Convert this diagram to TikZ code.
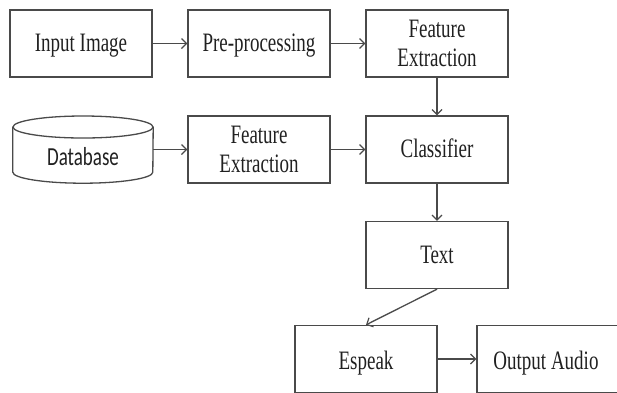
\documentclass[tikz,border=0pt]{standalone}
\usepackage{graphicx}
\usepackage{fontspec}
\setmainfont{Liberation Serif}
\newfontfamily\dbfont{Carlito}
\usetikzlibrary{arrows.meta}
\definecolor{linegray}{HTML}{4A4A4A}
\definecolor{textgray}{HTML}{202020}
\newcommand{\stretchtxt}[1]{\raisebox{-2.5pt}[\height][\depth]{\scalebox{1}[1.4]{\begin{tabular}{@{}c@{}}#1\end{tabular}}}}
\begin{document}
\begin{tikzpicture}[x=1pt,y=-1pt,
  blk/.style={draw=linegray, line width=1.3pt, minimum width=142pt, minimum height=67pt,
    inner sep=0pt, align=center, font=\fontsize{19}{20.5}\selectfont, text=textgray},
  conn/.style={draw=linegray, line width=1.3pt, -{Straight Barb[length=5pt,width=10pt,line width=1.2pt]}}]
\useasboundingbox (0,0) rectangle (617,392);
\node[blk] (in)  at (81,43.5)  {\stretchtxt{Input Image}};
\node[blk] (pre) at (259,43.5) {\stretchtxt{Pre-processing}};
\node[blk] (fe1) at (437,43.5) {\stretchtxt{Feature\\Extraction}};
\node[minimum width=140pt, minimum height=67pt, inner sep=0pt] (db) at (83,149.5) {};
\node[font=\dbfont\fontsize{19}{21}\selectfont, text=textgray, inner sep=0pt] (dbt) at (83,157) {\scalebox{1}[1.37]{Database}};
\draw[draw=linegray, line width=1.3pt]
  (db.north west) ++(0,11) coordinate (dbtl)
  (db.north east) ++(0,11) coordinate (dbtr)
  (db.south west) ++(0,-11) coordinate (dbbl)
  (db.south east) ++(0,-11) coordinate (dbbr);
\draw[draw=linegray, line width=1.3pt] (83,127) ellipse [x radius=70, y radius=11];
\draw[draw=linegray, line width=1.3pt] (dbtl) -- (dbbl) arc[start angle=180, end angle=360, x radius=70, y radius=-11] -- (dbtr);
\node[blk] (fe2) at (259,149.5) {\stretchtxt{Feature\\Extraction}};
\node[blk] (cls) at (437,149.5) {\stretchtxt{Classifier}};
\node[blk] (txt) at (437,255) {\stretchtxt{Text}};
\node[blk] (esp) at (366,359) {};
\node[blk] (out) at (548,359) {};
\node[font=\fontsize{19}{20.5}\selectfont, text=textgray, inner sep=0pt] (espt) at (366,361) {\stretchtxt{Espeak}};
\node[font=\fontsize{19}{20.5}\selectfont, text=textgray, inner sep=0pt] (outt) at (546,361) {\stretchtxt{Output Audio}};
\draw[conn] (in) -- (pre);
\draw[conn] (pre) -- (fe1);
\draw[conn] (fe1) -- (cls);
\draw[conn] (db.east) -- (fe2);
\draw[conn] (fe2) -- (cls);
\draw[conn] (cls) -- (txt);
\draw[conn] (txt.south) -- (esp.north);
\draw[conn] (esp) -- (out);
\end{tikzpicture}
\end{document}
